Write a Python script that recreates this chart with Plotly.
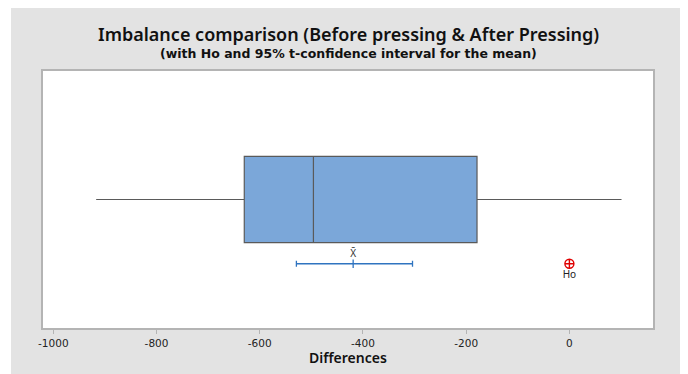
import plotly.graph_objects as go

# ---- data ----
box_q1 = -630
box_median = -496
box_q3 = -179
whisker_low = -917
whisker_high = 101
mean_value = -419
ci_low = -529
ci_high = -304
h0_value = 0
tick_values = [-1000, -800, -600, -400, -200, 0]
tick_labels = ["-1000", "-800", "-600", "-400", "-200", "0"]

# page is offset by the 8px body margin
OFF = 8
PAGE_W, PAGE_H = 688, 374
W, H = PAGE_W - OFF, PAGE_H - OFF
# plot area in page pixels
PX0, PX1, PY0, PY1 = 43, 652.7, 71, 328
L = PX0 - OFF
R = W - (PX1 - OFF)
T = PY0 - OFF
B = H - (PY1 - OFF)
pw = W - L - R
ph = H - T - B

GRAY = "#e3e3e3"
FONT = "Noto Sans"


def px_x(p):
    return (p - OFF - L) / pw


def px_y(p):
    return 1 - (p - OFF - T) / ph


fig = go.Figure()

fig.add_trace(go.Box(
    y=[0.5], q1=[box_q1], median=[box_median], q3=[box_q3],
    lowerfence=[whisker_low], upperfence=[whisker_high],
    orientation="h", width=0.336, whiskerwidth=0,
    fillcolor="#7ba7d9", line=dict(color="#5a5a5a", width=1.2),
    boxpoints=False, showlegend=False, hoverinfo="skip",
))

ci_y = 0.25
fig.add_trace(go.Scatter(
    x=[mean_value], y=[ci_y], mode="markers+text",
    marker=dict(symbol="line-ns", size=6, line=dict(color="#2f74c0", width=1.3)),
    error_x=dict(type="data", symmetric=False,
                 array=[ci_high - mean_value], arrayminus=[mean_value - ci_low],
                 color="#2f74c0", thickness=1.3, width=3),
    text=["X\u0304"], textposition="top center",
    textfont=dict(size=10, color="#333333", family=FONT),
    showlegend=False, hoverinfo="skip",
))

fig.add_trace(go.Scatter(
    x=[h0_value], y=[ci_y], mode="markers+text",
    marker=dict(symbol="circle-cross-open", size=9, color="#e00000", line=dict(width=1.4)),
    text=["Ho"], textposition="bottom center",
    textfont=dict(size=10, color="#222222", family=FONT),
    showlegend=False, hoverinfo="skip",
))

shapes = [
    dict(type="rect", xref="paper", yref="paper", x0=px_x(0), x1=px_x(11),
         y0=px_y(PAGE_H + 5), y1=px_y(0), fillcolor="white", line=dict(width=0), layer="below"),
    dict(type="rect", xref="paper", yref="paper", x0=px_x(683), x1=px_x(PAGE_W + 5),
         y0=px_y(PAGE_H + 5), y1=px_y(0), fillcolor="white", line=dict(width=0), layer="below"),
]

fig.update_layout(
    width=W, height=H,
    margin=dict(l=L, r=R, t=T, b=B, pad=0),
    paper_bgcolor=GRAY, plot_bgcolor="white",
    font=dict(family=FONT, color="#222222"),
    shapes=shapes,
    annotations=[
        dict(text="Imbalance comparison (Before pressing & After Pressing)",
             xref="paper", yref="paper", x=0.5, y=px_y(34), showarrow=False,
             font=dict(size=18, family=FONT, color="#111111", weight=600),
             xanchor="center", yanchor="middle"),
        dict(text="(with Ho and 95% t-confidence interval for the mean)",
             xref="paper", yref="paper", x=0.5, y=px_y(53), showarrow=False,
             font=dict(size=12.5, family="DejaVu Sans", color="#111111", weight=700),
             xanchor="center", yanchor="middle"),
        dict(text="Differences",
             xref="paper", yref="paper", x=0.5, y=px_y(357), showarrow=False,
             font=dict(size=14, family=FONT, color="#111111", weight=600),
             xanchor="center", yanchor="middle"),
    ],
    xaxis=dict(range=[-1020, 162], tickvals=tick_values, ticktext=tick_labels,
               showgrid=False, zeroline=False, showline=True, mirror=True,
               linecolor="#b4b4b4", linewidth=2, ticks="outside", ticklen=4,
               tickcolor="#b4b4b4", tickwidth=1,
               tickfont=dict(size=10.5, family="DejaVu Sans", color="#222222")),
    yaxis=dict(range=[0, 1], showgrid=False, zeroline=False, showline=True, mirror=True,
               linecolor="#b4b4b4", linewidth=2, showticklabels=False, ticks=""),
)

fig.write_html("out.html")
